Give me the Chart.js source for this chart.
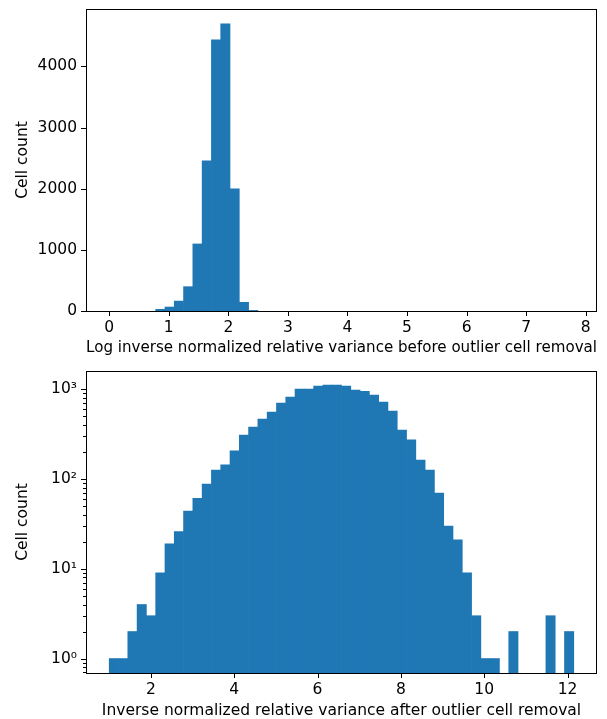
<!DOCTYPE html>
<html>
<head>
<meta charset="utf-8">
<script src="https://cdn.jsdelivr.net/npm/chart.js@4/dist/chart.umd.min.js"></script>
<style>
  body { margin: 0; background: #fff; }
  .wrap { position: relative; width: 607px; height: 719px; overflow: hidden; }
  canvas { position: absolute; left: 0; }
  #topChart { top: 0; }
  #bottomChart { top: 360px; }
</style>
</head>
<body>
<div class="wrap">
  <canvas id="topChart" width="607" height="360"></canvas>
  <canvas id="bottomChart" width="607" height="362"></canvas>
</div>
<script>
// top histogram: log inverse normalized relative variance, 50 bins over [0, 7.8]
const topRange = [0, 7.8];
const topCounts = [
    0, 0, 0, 0, 0, 28, 65, 162, 398, 1097,
    2455, 4435, 4697, 1997, 142, 10, 0, 0, 0, 0,
    0, 0, 0, 0, 0, 0, 0, 0, 0, 0,
    0, 0, 0, 0, 0, 0, 0, 0, 0, 0,
    0, 0, 0, 0, 0, 0, 0, 0, 0, 0
];
const topXTicks = [0, 1, 2, 3, 4, 5, 6, 7, 8];
const topYTicks = [0, 1000, 2000, 3000, 4000];

// bottom histogram: inverse normalized relative variance, 50 bins over [1.0, 12.15]
const bottomRange = [1.0, 12.15];
const bottomCounts = [
    1, 1, 2, 4, 3, 9, 19, 26, 44, 61,
    88, 126, 144, 206, 310, 380, 467, 559, 703, 821,
    1007, 1007, 1086, 1115, 1115, 1086, 982, 950, 864, 722,
    573, 352, 273, 163, 126, 70, 30, 21, 9, 3,
    1, 1, 0, 2, 0, 0, 0, 3, 0, 2
];
const bottomXTicks = [2, 4, 6, 8, 10, 12];
const bottomYTicks = [1, 10, 100, 1000];

const barColor = '#1f77b4';
const fontFamily = '"DejaVu Sans", sans-serif';
const fontSize = 15.5;
const sup = { '0': '\u2070', '1': '\u00b9', '2': '\u00b2', '3': '\u00b3' };

function histPoints(range, counts) {
    let w = (range[1] - range[0]) / counts.length;
    // empty bins stay in the list (keeps bar width) but draw nothing
    return counts.map((c, i) => ({ x: range[0] + w * (i + 0.5), y: c === 0 ? null : c }));
}

// matplotlib-like box and outward tick marks
const frame = {
    id: 'frame',
    afterDraw(chart) {
        let ctx = chart.ctx;
        let a = chart.chartArea;
        let sx = chart.scales.x;
        let sy = chart.scales.y;
        ctx.save();
        ctx.strokeStyle = '#000';
        ctx.lineWidth = 1;
        ctx.beginPath();
        sx.ticks.forEach(t => {
            let px = Math.round(sx.getPixelForValue(t.value)) + 0.5;
            ctx.moveTo(px, a.bottom);
            ctx.lineTo(px, a.bottom + 5);
        });
        sy.ticks.forEach(t => {
            let py = Math.round(sy.getPixelForValue(t.value)) + 0.5;
            let len = t.major === false ? 3 : 5;
            ctx.moveTo(a.left, py);
            ctx.lineTo(a.left - len, py);
        });
        ctx.stroke();
        ctx.strokeRect(Math.round(a.left) + 0.5, Math.round(a.top) + 0.5,
            Math.round(a.right - a.left) - 1, Math.round(a.bottom - a.top));
        ctx.restore();
    }
};

function baseOptions(xTitle, xHeight, padTop, titlePad) {
    return {
        responsive: false,
        animation: false,
        devicePixelRatio: 1,
        layout: { padding: { top: padTop, right: 10, left: 0, bottom: 0 } },
        plugins: { legend: { display: false }, tooltip: { enabled: false } },
        scales: {
            x: {
                type: 'linear',
                offset: false,
                grid: { display: false, drawTicks: false, offset: false },
                border: { display: false },
                ticks: { color: '#000', padding: 7.5, font: { family: fontFamily, size: fontSize }, maxRotation: 0,
                    callback: v => String(v) },
                title: { display: true, text: xTitle, color: '#000', padding: { top: 0, bottom: titlePad },
                    font: { family: fontFamily, size: fontSize } },
                afterFit: s => { s.height = xHeight; s.paddingLeft = 0; s.paddingRight = 0; }
            },
            y: {
                grid: { display: false, drawTicks: false },
                border: { display: false },
                ticks: { color: '#000', padding: 9, font: { family: fontFamily, size: fontSize },
                    callback: v => String(v) },
                title: { display: true, text: 'Cell count', color: '#000', padding: { top: 14, bottom: 0 },
                    font: { family: fontFamily, size: fontSize } },
                afterFit: s => { s.width = 86; s.paddingTop = 0; s.paddingBottom = 0; }
            }
        }
    };
}

let topOpts = baseOptions('Log inverse normalized relative variance before outlier cell removal', 49, 9, 2.5);
topOpts.scales.x.min = topRange[0] - 0.05 * (topRange[1] - topRange[0]);
topOpts.scales.x.max = topRange[1] + 0.05 * (topRange[1] - topRange[0]);
topOpts.scales.x.afterBuildTicks = s => { s.ticks = topXTicks.map(v => ({ value: v })); };
topOpts.scales.y.min = 0;
topOpts.scales.y.max = 4940;
topOpts.scales.y.afterBuildTicks = s => { s.ticks = topYTicks.map(v => ({ value: v })); };

let topChart = new Chart(document.getElementById('topChart').getContext('2d'), {
    type: 'bar',
    data: {
        datasets: [{
            data: histPoints(topRange, topCounts),
            backgroundColor: barColor,
            borderWidth: 0,
            barPercentage: 1,
            categoryPercentage: 1
        }]
    },
    options: topOpts,
    plugins: [frame]
});

let bottomOpts = baseOptions('Inverse normalized relative variance after outlier cell removal', 49, 11, 1.4);
bottomOpts.scales.x.min = bottomRange[0] - 0.05 * (bottomRange[1] - bottomRange[0]);
bottomOpts.scales.x.max = bottomRange[1] + 0.05 * (bottomRange[1] - bottomRange[0]);
bottomOpts.scales.x.afterBuildTicks = s => { s.ticks = bottomXTicks.map(v => ({ value: v })); };
bottomOpts.scales.y.type = 'logarithmic';
bottomOpts.scales.y.min = 0.69;
bottomOpts.scales.y.max = 1600;
bottomOpts.scales.y.afterBuildTicks = s => {
    let ticks = [];
    [0.1].concat(bottomYTicks).forEach(d => {
        for (let m = 1; m <= 9; m++) {
            let v = d * m;
            if (v >= s.min && v <= s.max) ticks.push({ value: v, major: m === 1 });
        }
    });
    s.ticks = ticks;
};
bottomOpts.scales.y.ticks.autoSkip = false;
bottomOpts.scales.y.ticks.callback = function(value) {
    let i = bottomYTicks.indexOf(value);
    if (i < 0) return '';
    return '10' + sup[String(i)];
};

let bottomChart = new Chart(document.getElementById('bottomChart').getContext('2d'), {
    type: 'bar',
    data: {
        datasets: [{
            data: histPoints(bottomRange, bottomCounts),
            backgroundColor: barColor,
            borderWidth: 0,
            barPercentage: 1,
            categoryPercentage: 1
        }]
    },
    options: bottomOpts,
    plugins: [frame]
});
</script>
</body>
</html>
